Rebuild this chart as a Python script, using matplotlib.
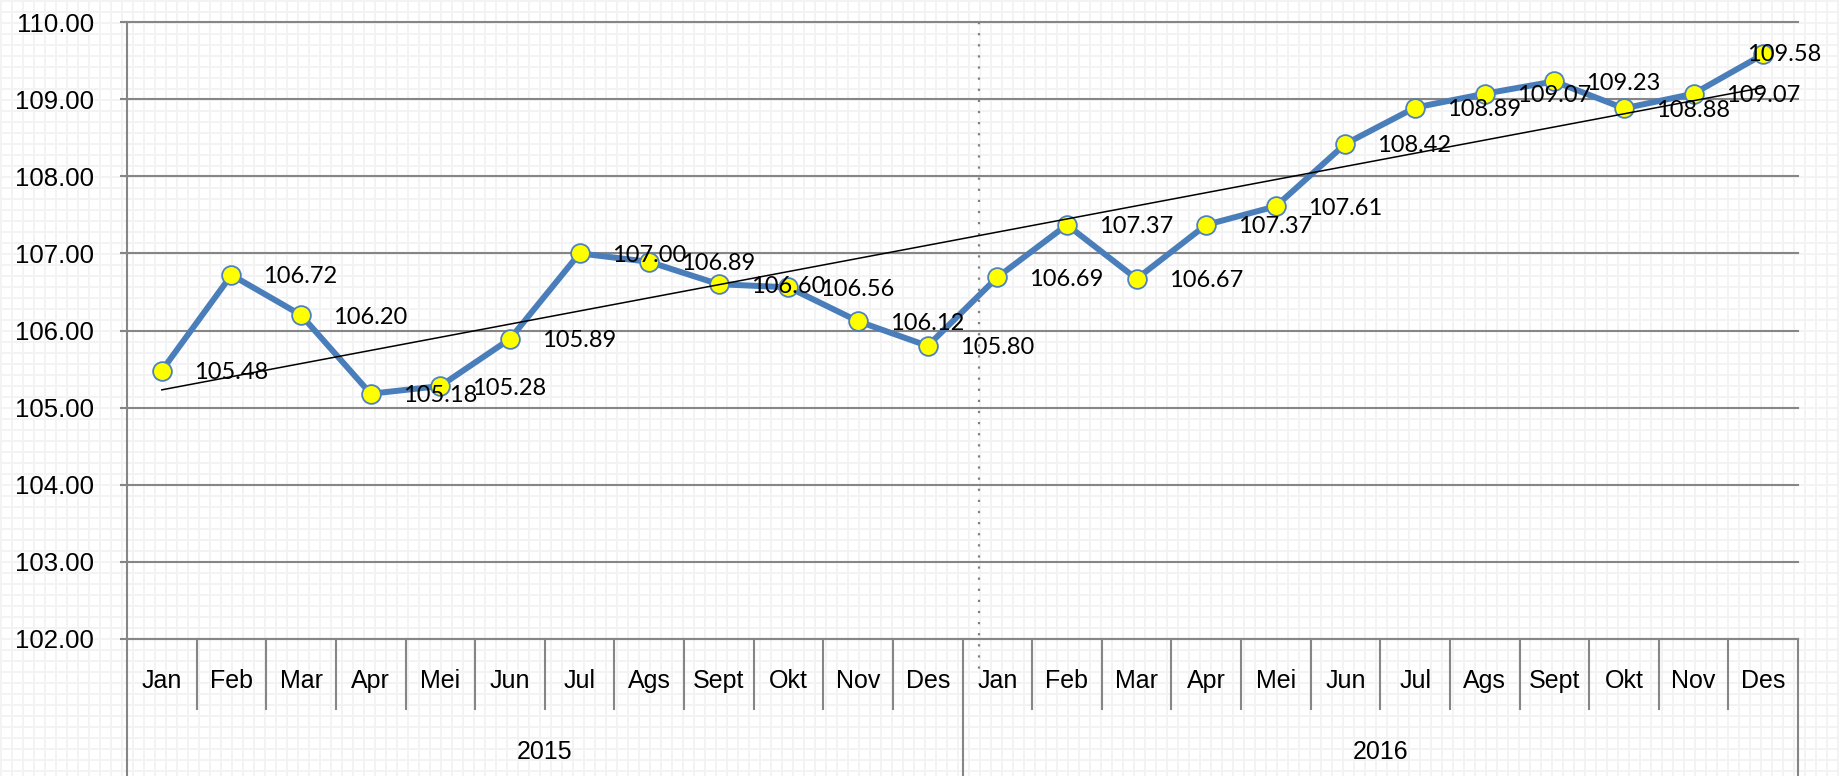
import numpy as np
import matplotlib
matplotlib.use("Agg")
import matplotlib.pyplot as plt
import matplotlib.transforms as mtransforms

# ---------------- data ----------------
months = ["Jan", "Feb", "Mar", "Apr", "Mei", "Jun", "Jul", "Ags", "Sept", "Okt", "Nov", "Des"]
years = ["2015", "2016"]
values_2015 = [105.48, 106.72, 106.20, 105.18, 105.28, 105.89, 107.00, 106.89, 106.60, 106.56, 106.12, 105.80]
values_2016 = [106.69, 107.37, 106.67, 107.37, 107.61, 108.42, 108.89, 109.07, 109.23, 108.88, 109.07, 109.58]
y_ticks = [102, 103, 104, 105, 106, 107, 108, 109, 110]

# ---------------- figure ----------------
W, H = 1839, 776
fig = plt.figure(figsize=(W / 100, H / 100), dpi=100)

# graph-paper background texture
bg = fig.add_axes([0, 0, 1, 1], zorder=-10)
yy, xx = np.mgrid[0:H, 0:W]
pat = np.ones((H, W))
pat = np.where((yy % 11) < 2, 0.955, pat)
pat = np.where((xx % 11) < 2, np.minimum(pat, 0.955), pat)
bg.imshow(pat, cmap="gray", vmin=0, vmax=1, aspect="auto", interpolation="nearest")
bg.axis("off")

ax = fig.add_axes([127 / W, 1 - 639 / H, (1798 - 127) / W, (639 - 22) / H])
ax.set_facecolor("none")

labels_all = months + months
values = values_2015 + values_2016
x = np.arange(len(values))

ax.set_xlim(-0.5, len(values) - 0.5)
ax.set_ylim(min(y_ticks), max(y_ticks))

grid_col = "#868686"
for s in ["top", "right"]:
    ax.spines[s].set_visible(False)
for s in ["left", "bottom"]:
    ax.spines[s].set_color(grid_col)
    ax.spines[s].set_linewidth(1.5)

ax.set_yticks(y_ticks)
ax.set_yticklabels([f"{t:.2f}" for t in y_ticks], family="Liberation Sans", fontsize=18.5)
ax.tick_params(axis="y", length=5, width=1.5, color=grid_col, pad=18.5)
ax.set_xticks([])
ax.yaxis.grid(True, color=grid_col, lw=1.5)
for gl in ax.get_ygridlines():
    gl.set_clip_on(False)
ax.set_axisbelow(True)

# series
ax.plot(x, values, color="#4A7EBB", lw=4.3, marker="o", ms=13.5,
        mfc="#FFFF00", mec="#4F81BD", mew=1.3, zorder=4, clip_on=False)

# linear trend line
coef = np.polyfit(x, values, 1)
xe = np.array([x[0], x[-1]])
ax.plot(xe, np.polyval(coef, xe), color="black", lw=1.1, zorder=5)

# data labels
for i, v in enumerate(values):
    off = (32, -2) if i < len(values) - 1 else (-16, 0)
    ax.annotate(f"{v:.2f}", (i, v), xytext=off, textcoords="offset pixels",
                ha="left", va="center", fontsize=17, family="Lato", color="black", zorder=6)

# category axis (months / years)
trans = mtransforms.blended_transform_factory(ax.transData, ax.transAxes)
n = len(values)
for b in np.arange(-0.5, n, 1.0):
    if b in (-0.5, 11.5, n - 0.5):
        ax.plot([b, b], [0, -0.225], transform=trans, clip_on=False, color=grid_col, lw=1.5)
    else:
        ax.plot([b, b], [0, -0.1135], transform=trans, clip_on=False, color=grid_col, lw=1.5)

for i, m in enumerate(labels_all):
    ax.text(i, -0.0794, m, transform=trans, ha="center", va="baseline",
            fontsize=18, family="Liberation Sans")
for k, yr in enumerate(years):
    ax.text(k * 12 + 5.5, -0.1945, yr, transform=trans, ha="center", va="baseline",
            fontsize=18, family="Liberation Sans")

# dotted year-divider line
split_x = 11.5 + 0.24
ax.plot([split_x, split_x], [1, -0.058], transform=trans, clip_on=False,
        color="#808080", lw=1.6, ls=(0, (1, 4)), zorder=2)

fig.savefig("out.png", dpi=100)
